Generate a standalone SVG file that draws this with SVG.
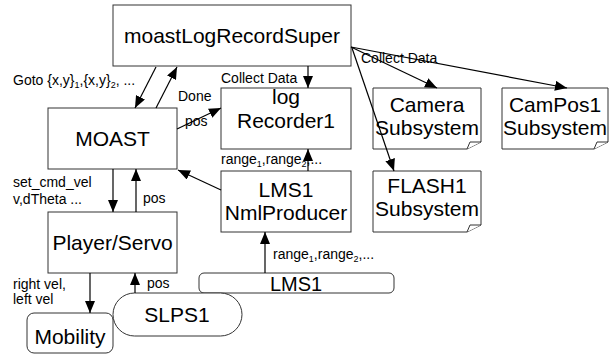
<svg xmlns="http://www.w3.org/2000/svg" width="616" height="355" viewBox="0 0 616 355">
<style>
.box{fill:#fff;stroke:#333;stroke-width:1}
.big{font-family:"Liberation Sans",Arial,sans-serif;font-size:21px;fill:#000;text-anchor:middle}
.lbl{font-family:"Liberation Sans",Arial,sans-serif;font-size:14px;fill:#000}
.sub{font-size:9px}
.conn line{stroke:#000;stroke-width:1.2}
</style>
<defs>
<marker id="ah" markerUnits="userSpaceOnUse" markerWidth="12" markerHeight="10" refX="12" refY="5" orient="auto">
<path d="M0,0 L12,5 L0,10 Z" fill="#000"/>
</marker>
</defs>
<rect width="616" height="355" fill="#fff"/>
<g id="super"><rect class="box" x="113" y="5" width="238" height="61"/><text class="big" x="232" y="43">moastLogRecordSuper</text></g>
<g id="moast"><rect class="box" x="48" y="108" width="129" height="61"/><text class="big" x="112.5" y="146">MOAST</text></g>
<g id="recorder"><rect class="box" x="221" y="88" width="130" height="61"/><text class="big" x="286" y="104">log</text><text class="big" x="286" y="128">Recorder1</text></g>
<g id="camera"><path class="box" d="M373,88 H481 V142 L467,149 H373 Z"/><path class="box" d="M467,149 L470,142 L481,142"/><text class="big" x="427" y="112">Camera</text><text class="big" x="427" y="135">Subsystem</text></g>
<g id="campos"><path class="box" d="M502,88 H608 V142 L594,149 H502 Z"/><path class="box" d="M594,149 L597,142 L608,142"/><text class="big" x="555" y="112">CamPos1</text><text class="big" x="555" y="135">Subsystem</text></g>
<g id="flash"><path class="box" d="M373,171 H481 V225 L467,232 H373 Z"/><path class="box" d="M467,232 L470,225 L481,225"/><text class="big" x="427" y="193">FLASH1</text><text class="big" x="427" y="216">Subsystem</text></g>
<g id="lmsprod"><rect class="box" x="221" y="171" width="130" height="61"/><text class="big" x="286" y="197">LMS1</text><text class="big" x="286" y="220">NmlProducer</text></g>
<g id="player"><rect class="box" x="48" y="212" width="129" height="61"/><text class="big" x="112.5" y="250">Player/Servo</text></g>
<g id="lms1"><rect class="box" x="199" y="273" width="195" height="20" rx="5"/><text class="big" x="296" y="291" style="font-size:20px">LMS1</text></g>
<g id="mobility"><rect class="box" x="27" y="313" width="86" height="40" rx="7"/><text class="big" x="70" y="344">Mobility</text></g>
<g id="slps"><rect class="box" x="113" y="293" width="129" height="43" rx="21.5"/><text class="big" x="177" y="322">SLPS1</text></g>
<g class="conn">
<line x1="156" y1="67" x2="135" y2="108" marker-end="url(#ah)"/>
<line x1="156" y1="108" x2="177" y2="67" marker-end="url(#ah)"/>
<line x1="308" y1="66" x2="308" y2="88" marker-end="url(#ah)"/>
<line x1="177" y1="129" x2="221" y2="108" marker-end="url(#ah)"/>
<line x1="308" y1="171" x2="308" y2="149" marker-end="url(#ah)"/>
<line x1="221" y1="190" x2="178" y2="170" marker-end="url(#ah)"/>
<line x1="113" y1="169" x2="113" y2="212" marker-end="url(#ah)"/>
<line x1="136" y1="212" x2="136" y2="169" marker-end="url(#ah)"/>
<line x1="90" y1="273" x2="90" y2="313" marker-end="url(#ah)"/>
<line x1="135" y1="293" x2="135" y2="273" marker-end="url(#ah)"/>
<line x1="265" y1="273" x2="265" y2="232" marker-end="url(#ah)"/>
<line x1="351" y1="47" x2="437" y2="88" marker-end="url(#ah)"/>
<line x1="351" y1="47" x2="567" y2="88" marker-end="url(#ah)"/>
<line x1="352" y1="48" x2="394" y2="171" marker-end="url(#ah)"/>
</g>
<g id="labels">
<text class="lbl" x="13" y="85">Goto {x,y}<tspan class="sub" dy="3">1</tspan><tspan dy="-3">,{x,y}</tspan><tspan class="sub" dy="3">2</tspan><tspan dy="-3">, ...</tspan></text>
<text class="lbl" x="178" y="101">Done</text>
<text class="lbl" x="185" y="126">pos</text>
<text class="lbl" x="221" y="83">Collect Data</text>
<text class="lbl" x="361" y="63">Collect Data</text>
<text class="lbl" x="221" y="164">range<tspan class="sub" dy="3">1</tspan><tspan dy="-3">,range</tspan><tspan class="sub" dy="3">2</tspan><tspan dy="-3">,...</tspan></text>
<text class="lbl" x="273" y="259">range<tspan class="sub" dy="3">1</tspan><tspan dy="-3">,range</tspan><tspan class="sub" dy="3">2</tspan><tspan dy="-3">,...</tspan></text>
<text class="lbl" x="13" y="187">set_cmd_vel</text>
<text class="lbl" x="13" y="204">v,dTheta ...</text>
<text class="lbl" x="143" y="203">pos</text>
<text class="lbl" x="13" y="289">right vel,</text>
<text class="lbl" x="13" y="304">left vel</text>
<text class="lbl" x="147" y="288">pos</text>
</g>
</svg>
